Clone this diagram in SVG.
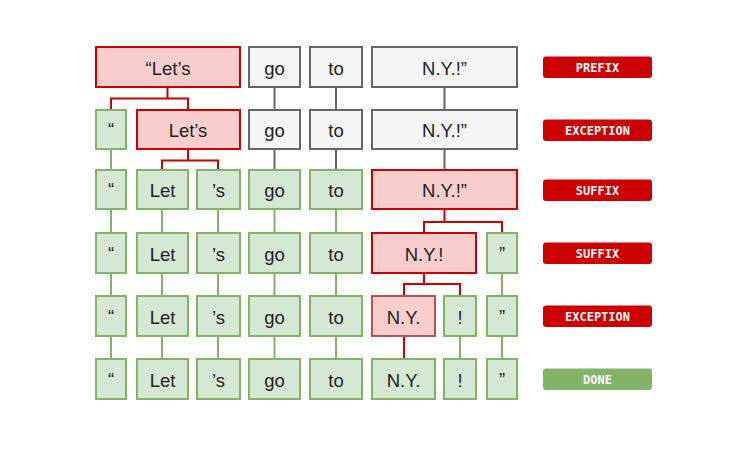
<svg xmlns="http://www.w3.org/2000/svg" width="755" height="469" viewBox="0 0 755 469">
<style>
.bx{stroke-width:2}
.r{fill:#f8cecc;stroke:#cc0000}
.r2{fill:#f8cecc;stroke:#b85450}
.g{fill:#f5f5f5;stroke:#666666}
.gr{fill:#d5e8d4;stroke:#82b366}
.t{font-family:"Liberation Sans",Arial,sans-serif;font-size:18.5px;fill:#222;text-anchor:middle;dominant-baseline:central}
.lb{font-family:"DejaVu Sans Mono","Liberation Mono",monospace;font-size:12px;font-weight:bold;fill:#fff;text-anchor:middle;dominant-baseline:central}
.cr{stroke:#cc0000;stroke-width:2;fill:none}
.cg{stroke:#666666;stroke-width:2;fill:none}
.cn{stroke:#82b366;stroke-width:2;fill:none}
</style>
<rect width="755" height="469" fill="#ffffff"/>
<g id="connectors">
<path class="cr" d="M167.5 87V98.5M111 109V98.5H188V109"/>
<path class="cg" d="M274.5 87V109M336 87V109M444.5 87V109"/>
<path class="cn" d="M111 149V169"/>
<path class="cr" d="M188 149V160.5M162 169V160.5H218V169"/>
<path class="cg" d="M274.5 149V169M336 149V169M444.5 149V169"/>
<path class="cn" d="M111 209V233M162 209V233M218 209V233M274.5 209V233M336 209V233"/>
<path class="cr" d="M444.5 209V222M424 233V222H502V233"/>
<path class="cn" d="M111 273V296M162 273V296M218 273V296M274.5 273V296M336 273V296M502 273V296"/>
<path class="cr" d="M424 273V284M404 296V284H460V296"/>
<path class="cn" d="M111 336V359M162 336V359M218 336V359M274.5 336V359M336 336V359M460 336V359M502 336V359"/>
<path class="cr" d="M404 336V359"/>
</g>
<g id="r1-lets"><rect class="bx r" x="96" y="47" width="144" height="40"/><text class="t" x="168" y="68">“Let’s</text></g>
<g id="r1-go"><rect class="bx g" x="249" y="47" width="51" height="40"/><text class="t" x="274.5" y="68">go</text></g>
<g id="r1-to"><rect class="bx g" x="310" y="47" width="52" height="40"/><text class="t" x="336" y="68">to</text></g>
<g id="r1-ny"><rect class="bx g" x="372" y="47" width="145" height="40"/><text class="t" x="444.5" y="68">N.Y.!”</text></g>
<g id="r2-q"><rect class="bx gr" x="96" y="110" width="30" height="39"/><text class="t" x="111" y="129.5">“</text></g>
<g id="r2-lets"><rect class="bx r" x="137" y="110" width="103" height="39"/><text class="t" x="188" y="130">Let’s</text></g>
<g id="r2-go"><rect class="bx g" x="249" y="110" width="51" height="39"/><text class="t" x="274.5" y="130">go</text></g>
<g id="r2-to"><rect class="bx g" x="310" y="110" width="52" height="39"/><text class="t" x="336" y="130">to</text></g>
<g id="r2-ny"><rect class="bx g" x="372" y="110" width="145" height="39"/><text class="t" x="444.5" y="130">N.Y.!”</text></g>
<g id="r3-q"><rect class="bx gr" x="96" y="170" width="30" height="39"/><text class="t" x="111" y="189.5">“</text></g>
<g id="r3-let"><rect class="bx gr" x="137" y="170" width="51" height="39"/><text class="t" x="162.5" y="190">Let</text></g>
<g id="r3-s"><rect class="bx gr" x="197" y="170" width="43" height="39"/><text class="t" x="218.5" y="190">’s</text></g>
<g id="r3-go"><rect class="bx gr" x="249" y="170" width="51" height="39"/><text class="t" x="274.5" y="190">go</text></g>
<g id="r3-to"><rect class="bx gr" x="310" y="170" width="52" height="39"/><text class="t" x="336" y="190">to</text></g>
<g id="r3-ny"><rect class="bx r" x="372" y="170" width="145" height="39"/><text class="t" x="444.5" y="190">N.Y.!”</text></g>
<g id="r4-q"><rect class="bx gr" x="96" y="233" width="30" height="40"/><text class="t" x="111" y="253">“</text></g>
<g id="r4-let"><rect class="bx gr" x="137" y="233" width="51" height="40"/><text class="t" x="162.5" y="254">Let</text></g>
<g id="r4-s"><rect class="bx gr" x="197" y="233" width="43" height="40"/><text class="t" x="218.5" y="254">’s</text></g>
<g id="r4-go"><rect class="bx gr" x="249" y="233" width="51" height="40"/><text class="t" x="274.5" y="254">go</text></g>
<g id="r4-to"><rect class="bx gr" x="310" y="233" width="52" height="40"/><text class="t" x="336" y="254">to</text></g>
<g id="r4-ny"><rect class="bx r" x="372" y="233" width="104" height="40"/><text class="t" x="424" y="254">N.Y.!</text></g>
<g id="r4-cq"><rect class="bx gr" x="487" y="233" width="30" height="40"/><text class="t" x="502" y="253">”</text></g>
<g id="r5-q"><rect class="bx gr" x="96" y="296" width="30" height="40"/><text class="t" x="111" y="316">“</text></g>
<g id="r5-let"><rect class="bx gr" x="137" y="296" width="51" height="40"/><text class="t" x="162.5" y="317">Let</text></g>
<g id="r5-s"><rect class="bx gr" x="197" y="296" width="43" height="40"/><text class="t" x="218.5" y="317">’s</text></g>
<g id="r5-go"><rect class="bx gr" x="249" y="296" width="51" height="40"/><text class="t" x="274.5" y="317">go</text></g>
<g id="r5-to"><rect class="bx gr" x="310" y="296" width="52" height="40"/><text class="t" x="336" y="317">to</text></g>
<g id="r5-ny"><rect class="bx r2" x="372" y="296" width="63" height="40"/><text class="t" x="403.5" y="317">N.Y.</text></g>
<g id="r5-ex"><rect class="bx gr" x="444" y="296" width="32" height="40"/><text class="t" x="460" y="317">!</text></g>
<g id="r5-cq"><rect class="bx gr" x="487" y="296" width="30" height="40"/><text class="t" x="502" y="316">”</text></g>
<g id="r6-q"><rect class="bx gr" x="96" y="359" width="30" height="40"/><text class="t" x="111" y="379">“</text></g>
<g id="r6-let"><rect class="bx gr" x="137" y="359" width="51" height="40"/><text class="t" x="162.5" y="380">Let</text></g>
<g id="r6-s"><rect class="bx gr" x="197" y="359" width="43" height="40"/><text class="t" x="218.5" y="380">’s</text></g>
<g id="r6-go"><rect class="bx gr" x="249" y="359" width="51" height="40"/><text class="t" x="274.5" y="380">go</text></g>
<g id="r6-to"><rect class="bx gr" x="310" y="359" width="52" height="40"/><text class="t" x="336" y="380">to</text></g>
<g id="r6-ny"><rect class="bx gr" x="372" y="359" width="63" height="40"/><text class="t" x="403.5" y="380">N.Y.</text></g>
<g id="r6-ex"><rect class="bx gr" x="444" y="359" width="32" height="40"/><text class="t" x="460" y="380">!</text></g>
<g id="r6-cq"><rect class="bx gr" x="487" y="359" width="30" height="40"/><text class="t" x="502" y="379">”</text></g>
<g id="lbl-prefix"><rect x="543" y="56.5" width="109" height="21.5" rx="3" fill="#cc0000"/><text class="lb" x="597.5" y="67.5">PREFIX</text></g>
<g id="lbl-exc1"><rect x="543" y="119.5" width="109" height="21.5" rx="3" fill="#cc0000"/><text class="lb" x="597.5" y="130.5">EXCEPTION</text></g>
<g id="lbl-suf1"><rect x="543" y="179.5" width="109" height="21.5" rx="3" fill="#cc0000"/><text class="lb" x="597.5" y="190.5">SUFFIX</text></g>
<g id="lbl-suf2"><rect x="543" y="242.5" width="109" height="21.5" rx="3" fill="#cc0000"/><text class="lb" x="597.5" y="253.5">SUFFIX</text></g>
<g id="lbl-exc2"><rect x="543" y="305.5" width="109" height="21.5" rx="3" fill="#cc0000"/><text class="lb" x="597.5" y="316.5">EXCEPTION</text></g>
<g id="lbl-done"><rect x="543" y="368.5" width="109" height="21.5" rx="3" fill="#82b366"/><text class="lb" x="597.5" y="379.5">DONE</text></g>
</svg>
